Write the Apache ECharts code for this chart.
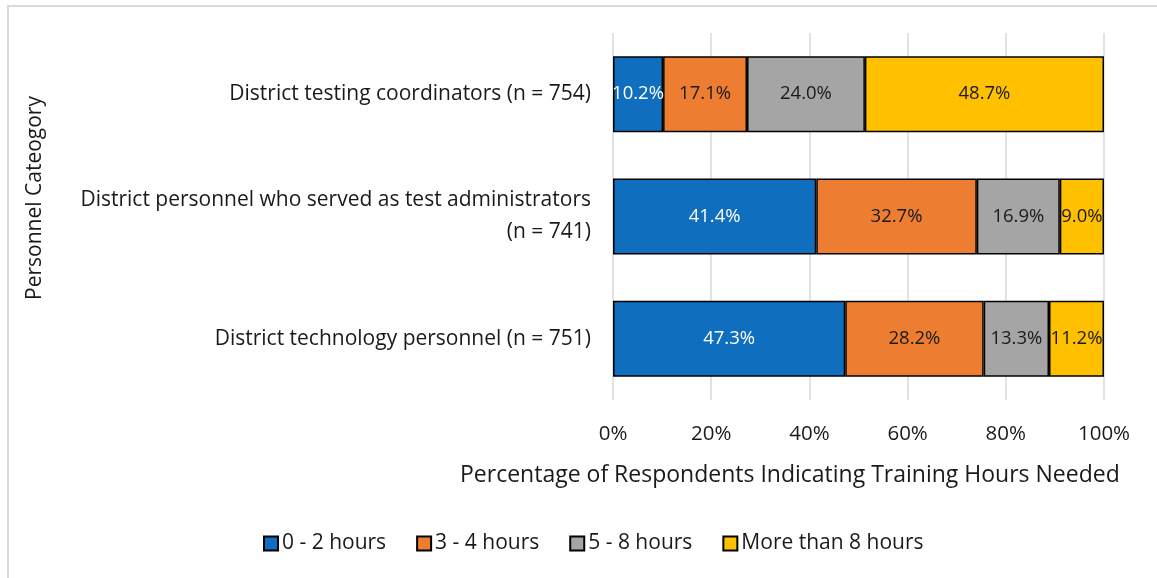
<!DOCTYPE html>
<html>
<head>
<meta charset="utf-8">
<script src="https://cdn.jsdelivr.net/npm/echarts@6/dist/echarts.min.js"></script>
<style>
  html, body { margin: 0; padding: 0; background: #fff; }
  #frame {
    position: absolute; left: 7px; top: 5px; width: 1160px; height: 580px;
    border-top: 2px solid #d9d9d9; border-left: 2px solid #d9d9d9;
  }
  #chart { position: absolute; left: 0; top: 0; width: 1157px; height: 578px; }
</style>
</head>
<body>
<div id="frame"></div>
<div id="chart"></div>
<script>
  // Training hours needed, percent of respondents per personnel category
  const categories = [
    "District testing coordinators (n = 754)",
    "District personnel who served as test administrators\n(n = 741)",
    "District technology personnel (n = 751)"
  ];
  const seriesNames = ["0 - 2 hours", "3 - 4 hours", "5 - 8 hours", "More than 8 hours"];
  const hours0to2 = [10.2, 41.4, 47.3];
  const hours3to4 = [17.1, 32.7, 28.2];
  const hours5to8 = [24.0, 16.9, 13.3];
  const hoursOver8 = [48.7, 9.0, 11.2];
  const xTicks = [0, 20, 40, 60, 80, 100];

  const colors = ["#0F6EBE", "#ED7D31", "#A5A5A5", "#FFC000"];
  const labelColors = ["#ffffff", "#1a1a1a", "#1a1a1a", "#1a1a1a"];
  const font = "'Open Sans', sans-serif";

  const chart = echarts.init(document.getElementById("chart"));

  const values = [hours0to2, hours3to4, hours5to8, hoursOver8];
  const series = values.map((data, i) => ({
    name: seriesNames[i],
    type: "bar",
    stack: "total",
    barWidth: 76,
    data: data,
    itemStyle: { color: colors[i], borderColor: "#000", borderWidth: 1.5 },
    label: {
      show: true,
      position: "inside",
      color: labelColors[i],
      fontFamily: font,
      fontSize: 18.5,
      formatter: (p) => p.value.toFixed(1) + "%"
    }
  }));

  chart.setOption({
    animation: false,
    textStyle: { fontFamily: font },
    grid: { left: 613, right: 53, top: 33, bottom: 178 },
    title: {
      text: "Percentage of Respondents Indicating Training Hours Needed",
      left: 455,
      top: 459,
      textStyle: { fontFamily: font, fontSize: 23, fontWeight: "normal", color: "#1a1a1a" }
    },
    graphic: [{
      type: "text",
      x: 35,
      y: 198,
      rotation: Math.PI / 2,
      style: {
        text: "Personnel Cateogory",
        font: "21px " + font,
        fill: "#1a1a1a",
        align: "center",
        verticalAlign: "middle"
      }
    }],
    legend: {
      bottom: 19,
      left: 258,
      itemWidth: 14,
      itemHeight: 14,
      itemGap: 30,
      icon: "rect",
      textStyle: { fontFamily: font, fontSize: 21, color: "#1a1a1a", padding: [0, 0, 0, -1] },
      data: seriesNames
    },
    xAxis: {
      type: "value",
      min: xTicks[0],
      max: xTicks[xTicks.length - 1],
      interval: 20,
      axisLine: { show: false },
      axisTick: { show: false },
      splitLine: { lineStyle: { color: "#d9d9d9", width: 1.5 } },
      axisLabel: {
        margin: 24,
        fontSize: 20.5,
        color: "#1a1a1a",
        fontFamily: font,
        formatter: (v) => v + "%"
      }
    },
    yAxis: {
      type: "category",
      inverse: true,
      data: categories,
      axisLine: { show: false },
      axisTick: { show: false },
      axisLabel: {
        margin: 22,
        fontSize: 21,
        lineHeight: 32,
        padding: [6, 0, 0, 0],
        color: "#1a1a1a",
        fontFamily: font,
        align: "right",
        formatter: (v) => v
      }
    },
    series: series
  });
</script>
</body>
</html>
